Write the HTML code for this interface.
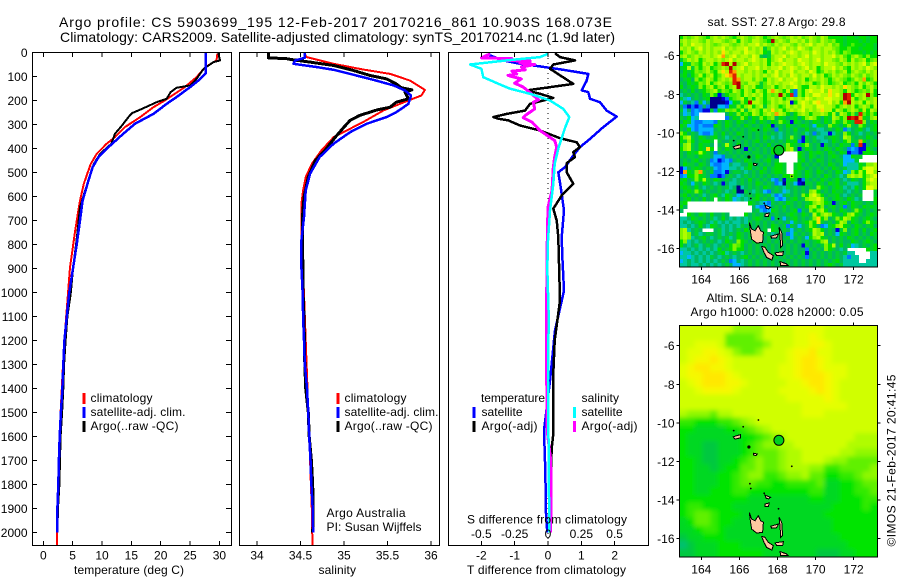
<!DOCTYPE html>
<html lang="en">
<head>
<meta charset="utf-8">
<title>Argo profile CS 5903699_195</title>
<style>
html,body{margin:0;padding:0;background:#fff;width:900px;height:580px;overflow:hidden}
svg{display:block}
text{font-family:"Liberation Sans",sans-serif;font-size:12px;fill:#000}
.title{font-size:14px}
.frame{fill:none;stroke:#000;stroke-width:1;shape-rendering:crispEdges}
.tick{stroke:#000;stroke-width:1;shape-rendering:crispEdges}
.line{fill:none;shape-rendering:crispEdges;stroke-linejoin:round}
.cell{shape-rendering:crispEdges}
.key{shape-rendering:crispEdges}
</style>
</head>
<body>
<svg id="chart" width="900" height="580" viewBox="0 0 900 580" xmlns="http://www.w3.org/2000/svg">
  <defs>
    <filter id="smooth" x="-5%" y="-5%" width="110%" height="110%"><feGaussianBlur stdDeviation="2.4"/></filter>
    <clipPath id="sla-clip"><rect x="679.5" y="325.5" width="198" height="231.5"/></clipPath>
  </defs>
  <text class="title" x="59" y="27" textLength="553" lengthAdjust="spacing">Argo profile: CS 5903699_195 12-Feb-2017 20170216_861 10.903S 168.073E</text>
  <text class="title" x="60" y="42" textLength="555" lengthAdjust="spacing">Climatology: CARS2009. Satellite-adjusted climatology: synTS_20170214.nc (1.9d later)</text>

  <g id="profiles"></g>
  <g id="maps"></g>

  <text x="74" y="574" textLength="110" lengthAdjust="spacing">temperature (deg C)</text>
  <text x="318.5" y="574" textLength="37.5" lengthAdjust="spacing">salinity</text>
  <text x="467" y="574" textLength="159" lengthAdjust="spacing">T difference from climatology</text>
  <text x="467" y="523.5" textLength="160" lengthAdjust="spacing">S difference from climatology</text>

  <g>
    <rect class="key" x="82.5" y="393" width="3" height="11" fill="#ff0000"/>
    <text x="90.5" y="402" textLength="62" lengthAdjust="spacing">climatology</text>
    <rect class="key" x="82.5" y="407" width="3" height="11" fill="#0000ff"/>
    <text x="90.5" y="416" textLength="95" lengthAdjust="spacing">satellite-adj. clim.</text>
    <rect class="key" x="82.5" y="421" width="3" height="11" fill="#000"/>
    <text x="90.5" y="430" textLength="88" lengthAdjust="spacing">Argo(..raw -QC)</text>
  </g>
  <g>
    <rect class="key" x="336.5" y="393" width="3" height="11" fill="#ff0000"/>
    <text x="344.5" y="402" textLength="62" lengthAdjust="spacing">climatology</text>
    <rect class="key" x="336.5" y="407" width="3" height="11" fill="#0000ff"/>
    <text x="344.5" y="416" textLength="94" lengthAdjust="spacing">satellite-adj. clim.</text>
    <rect class="key" x="336.5" y="421" width="3" height="11" fill="#000"/>
    <text x="344.5" y="430" textLength="88" lengthAdjust="spacing">Argo(..raw -QC)</text>
    <text x="326.5" y="517" textLength="79" lengthAdjust="spacing">Argo Australia</text>
    <text x="326.5" y="531" textLength="95" lengthAdjust="spacing">PI: Susan Wijffels</text>
  </g>
  <g>
    <text x="481" y="402" textLength="64" lengthAdjust="spacing">temperature</text>
    <rect class="key" x="472.5" y="407" width="3" height="11" fill="#0000ff"/>
    <text x="481.5" y="416" textLength="41" lengthAdjust="spacing">satellite</text>
    <rect class="key" x="472.5" y="421" width="3" height="11" fill="#000"/>
    <text x="481.5" y="430" textLength="56" lengthAdjust="spacing">Argo(-adj)</text>
    <text x="581.5" y="402" textLength="37.5" lengthAdjust="spacing">salinity</text>
    <rect class="key" x="573" y="407" width="3" height="11" fill="#00ffff"/>
    <text x="581.5" y="416" textLength="41" lengthAdjust="spacing">satellite</text>
    <rect class="key" x="573" y="421" width="3" height="11" fill="#ff00ff"/>
    <text x="581.5" y="430" textLength="56" lengthAdjust="spacing">Argo(-adj)</text>
  </g>

  <text x="707.5" y="26" textLength="138" lengthAdjust="spacing">sat. SST: 27.8 Argo: 29.8</text>
  <text x="706.5" y="302" textLength="87.5" lengthAdjust="spacing">Altim. SLA: 0.14</text>
  <text x="690.5" y="316" textLength="173" lengthAdjust="spacing">Argo h1000: 0.028 h2000: 0.05</text>
  <text transform="translate(895.5,546.5) rotate(-90)" textLength="172" lengthAdjust="spacing">©IMOS 21-Feb-2017 20:41:45</text>
</svg>

<script>
/* ---------- depth axis ---------- */
const depthTicks = [0,100,200,300,400,500,600,700,800,900,1000,1100,1200,1300,1400,1500,1600,1700,1800,1900,2000];
const tempTicks = [0,5,10,15,20,25,30];
const salTicks = ["34","34.5","35","35.5","36"];
const tDiffTicks = ["-2","-1","0","1","2"];
const sDiffTicks = ["-0.5","-0.25","0","0.25","0.5"];

/* ---------- temperature profiles ---------- */
const tempClimDepth = [5,33,61,103,144,200,228,269,311,353,380,422,464,505,547,617,686,756,825,894,978,1100,1200,1300,1400,1500,1600,1700,1800,1900,2000,2054];
const tempClimValue = [29.66,29.5,27.6,26.1,24.1,20.7,18.75,16.5,13.9,12.2,10.8,9.1,8.1,7.5,6.9,6.25,5.8,5.35,4.95,4.55,4.3,3.9,3.6,3.35,3.15,2.95,2.8,2.65,2.55,2.45,2.35,2.3];
const tempSatDepth = [0,85,96,117,144,186,214,256,297,339,394,436,478,533,617,700,797,894,1005,1100,1200,1300,1400,1500,1600,1700,1800,1900,2000];
const tempSatValue = [27.7,27.7,27.3,26.4,25,22.7,21,18.75,15.6,13.6,11.1,9.4,8.4,7.7,6.7,6.25,5.7,5.1,4.4,4,3.6,3.4,3.25,3,2.8,2.65,2.55,2.4,2.35];
const tempArgoDepth = [0,33,40,68,110,137,147,165,193,207,235,253,269,304,339,380,422,464,505,561,644,756,894,1005,1100,1200,1300,1400,1500,1600,1700,1800,1900,2000];
const tempArgoValue = [29.8,30.1,29,27.3,26.1,25,22.7,21.7,21,19.3,16.8,15.1,14.5,13.4,12.2,11.6,9.7,8.6,8.1,7.3,6.25,5.8,5.1,4.66,4.1,3.8,3.55,3.4,3.2,2.95,2.85,2.75,2.5,2.4];

/* ---------- salinity profiles ---------- */
const salClimDepth = [5,19,47,71,89,117,156,179,200,242,290,325,353,408,464,519,575,631,756,894,1005,1100,1200,1300,1400,1500,1600,1700,1800,1900,2000,2054];
const salClimValue = [34.55,34.57,34.88,35.22,35.53,35.76,35.93,35.89,35.74,35.45,35.22,35.03,34.88,34.74,34.63,34.56,34.53,34.51,34.51,34.525,34.54,34.55,34.56,34.57,34.58,34.585,34.6,34.61,34.62,34.63,34.635,34.64];
const salSatDepth = [1,22,33,47,61,72,89,114,137,158,179,214,249,269,297,332,380,436,505,575,686,783,894,1005,1100,1200,1300,1400,1500,1600,1700,1800,1900,2000];
const salSatValue = [34.55,34.55,34.44,34.42,34.69,34.88,35.07,35.34,35.57,35.7,35.77,35.74,35.6,35.49,35.26,35.07,34.88,34.72,34.61,34.56,34.54,34.51,34.51,34.525,34.53,34.54,34.55,34.575,34.59,34.6,34.615,34.625,34.64,34.645];
const salArgoDepth = [1,22,26,31,40,54,75,96,110,131,147,156,165,193,207,228,239,262,283,311,353,408,450,519,603,672,839,1005,1100,1200,1300,1400,1500,1600,1700,1800,1900,2000];
const salArgoValue = [34.13,34.13,34.34,34.42,34.61,34.88,35.11,35.3,35.49,35.6,35.66,35.78,35.7,35.74,35.6,35.53,35.38,35.18,35.07,35,34.9,34.78,34.67,34.59,34.54,34.525,34.525,34.53,34.54,34.545,34.55,34.56,34.59,34.6,34.625,34.64,34.645,34.64];

/* ---------- difference profiles ---------- */
const tDiffSatDepth = [3,12,33,47,58,72,89,117,158,165,193,207,242,267,311,360,394,429,478,499,561,658,769,850,992,1158,1367,1575,1742,1921,2000];
const tDiffSatValue = [-1.79,-1.74,-1.34,-0.84,-0.24,0.46,1.21,1.16,1.01,1.21,1.26,1.56,1.76,2.06,1.66,1.26,0.96,0.76,0.51,0.31,0.38,0.48,0.41,0.43,0.48,0.21,0.06,-0.12,-0.08,-0.06,-0.02];
const tDiffArgoDepth = [3,19,33,50,68,131,158,172,189,214,242,256,269,276,283,304,325,357,374,394,415,436,461,499,547,596,651,700,769,1033,1200,1367,1600,1650,1850,2000];
const tDiffArgoValue = [0.21,0.36,0.81,0.16,0.06,0.76,-0.64,-0.24,0.16,-0.54,-0.69,-1.24,-1.64,-1.49,-1.19,-0.84,-0.24,0.36,0.86,0.96,0.76,0.81,0.56,0.56,0.76,0.41,0.16,0.26,0.31,0.36,0.2,0.15,0.15,0.11,0.06,0.06];
const sDiffSatDepth = [6,19,33,50,68,103,131,151,172,200,235,269,311,394,464,547,658,783,900,1100,1367,1700,2000];
const sDiffSatValue = [0,-0.06,-0.31,-0.585,-0.5,-0.485,-0.37,-0.285,-0.135,0.015,0.115,0.16,0.13,0.08,0.05,0.04,0.015,0,-0.005,0.005,0,0.005,0.01];
const sDiffArgoDepth = [6,22,26,33,36,44,50,61,72,78,89,96,110,128,144,158,197,207,235,262,272,290,325,367,394,436,478,575,644,769,1000,1367,1580,1700,1800,2000];
const sDiffArgoValue = [-0.435,-0.5,-0.27,-0.35,-0.135,-0.21,-0.1,-0.2,-0.17,-0.27,-0.235,-0.3,-0.2,-0.25,-0.185,-0.155,-0.07,-0.11,-0.1,-0.17,-0.185,-0.12,-0.06,0.05,0.065,0.05,0.04,0.03,0,-0.005,-0.01,-0.01,-0.005,0.02,0.022,0.02];

/* ---------- map axes ---------- */
const lonTicks = [164,166,168,170,172];
const latTicks = [-6,-8,-10,-12,-14,-16];
const argoLon = 168.073;
const argoLat = -10.903;
const gridLonStart = 162.85;
const gridLatStart = -4.93;
const sstLonStep = 0.2;
const sstLatStep = 0.2;
const slaLonStep = 0.4;
const slaLatStep = 0.4;

/* ---------- SST grid: one code per cell ---------- */
const sstLevels = "abcdefghijklmnop";
const sstRows = [
"hjijkjihjkjkjihjkjijkjhijkjijkjkijkjikjhhhhghhghhghh",
"jkjkkjikjkkjijkhkjikkjihpjkjikkjkikjikjijhhghhhghghh",
"ikjlkkjkjijkkjijkjkkljkjikjkkjikjkljkkjkijhghihhghhg",
"kjkikljkjkkljkjkkljkjkgikjkljkjlkjikkjkkjihhihhghhhg",
"hjkjikjkjkjmkjkkjlkkjkhgkjkjklkjkkjlkjkjkihjihhhghgh",
"jkijkjkkjklnjkljkkjlkgfgjkkljkkjkljkkjkkljkihjkihjhh",
"gikjkhjkkjkjkljkkjklkjkhjkljkkjlkkjkljkkjikjhkijkhij",
"dhgjihkjkhjopkpjkljkkjkhkjklkkjklkjkkjlkkjikjkjklikl",
"ghkgjhjkhijkjpjkljkkljkjkkljklkjkljkhjkkljkihkjkjlkj",
"fhghjijkihkmkonkkjkjkjhkjljkkljkkjlkhikjkijkhjkjikjk",
"ghfhikhjkhikmnokjkkjkjkjkljkjlkjkkjljkhikjkjikjikijk",
"fghfjhikjhjkjkonjkkikjhkjkljkkljkhjkjkjhjkjihikjnhik",
"gfhghjikhjkjijopjikkjgikjkjkklkjkjkhikjhijkhijhkikjh",
"hfghgjhjkhjkhjkpikjkhgijkhjkjkljhhkkjlkkjkjmkjikhjki",
"fgfhfghijkhjihkjhkjhkjhknkjhkgcjhklkkljmkkjhkjhijikh",
"efgfgfhgjhbfhiijhkjkjkhjijpjhocjhkjllkkmkljpohkjkpjh",
"gedfgfghaaabchijkhjhkjhjkjkhjkjkjlkjkkllkkjpokhjkijk",
"dgfecgdfaaaabdhgjhpkkjhikjkjkbhklkjlmkkljkhnpkjkhkjk",
"fcbcbcfcaaddchgjhjkhjkgjkjhikjkjlkkjllkkjhjkjkhjkjhk",
"gdfcdcbbgchgjijhkgjkjhkjmjkhjkjkljkjkmkkhkjhjkjhkhkj",
"fdecdwwwwwwwfhgjhihkjhjkjnkjhfhjkjhjjkjhkgkjhjgoihjh",
"gfhdewwwwwwwcfhgjhfhgjhijfhgfghfhjkjhfhgkjhjpopnhgjk",
"fhgdccdddcgfhgfhgfghfhgfhgjhgbhgfgfhgfhgjhgjhgoojfhg",
"hgddcdccchgfhgfgfhgfgfghbfgfhgfghgfdhgfjhgfhjgfjhfgh",
"gfhdcddddfgfgfgfgfghgfhgfcgfgfhffhffeefgfhgcefghfegh",
"jhfgfdccdgfhfgfhgfgfgfgfgfefgfgfgefcfeebegfjhfgefgfg",
"hjkgfhgfghfgefgfgfgfgfhgefefgjgfbgfgeefghgfkjgfgfhgf",
"hgjhfghhgwgffgfgfgfghfgfgfgfhghcbgfgfeefhgfhjggnhfgh",
"gjkgfhggfwfgkgfhfgfgfgfhfgfgjhgfhjgfgbgfgfhggcgobfgh",
"hjkgfhgmhwgfhgfgfbgfgfgfhgfhjkgbfhgfgfhgfhgfcdcbbhgf",
"gfhghkhgfcfgfgfgfgfggfgfhgwwwwwhgfhghgfhgfhgbccbhhhg",
"gfggfhggfddcffgfgfgfhgfgfbwwwwwhgfhgfgfghgfddhggwwww",
"fgfghfgfcdbcdcfgfhgfgfghfgwwwwwghfgfhgfgfggdddgwwwww",
"fhggfhgfdccddfeeffhgfgfgfhhgwwghfgfgfgfhgfgdeeehgjjk",
"bdfghgfgfdcddeefeghfgfhfghhgwwghgfgfgfgfhgfgeeehkllk",
"bnhgjngfgccdbfggfefgfhgfghhgwwhgfhgfhgfgfhgdejhkhllj",
"cdhhjhgfccbcfgfefgfgfgfgfgfhhjhgfhgfgfhgfgefjkjkhjkl",
"ghfgjhkgfhgfgfefgfhfgfgfdcfbghgacgfgfhgfghfefhgfhklk",
"hgfdgfhgfefbfeefgfgfhgfgfcdagfdbaggfhgfhghfgeeefhjkk",
"ghgfhfefgfgfgefaefgfgfhgfgfegfgfgfgfjhgfghgefehfhllk",
"fghgjhfgffgfefgaagfegfdcfgfdefgfgfjkhfgfhggfefgfwwwg",
"ghfgfgefghfehgfdefgfhgfgecdfgfgfjhkljhfgghfefgfgwwwg",
"fghfgfhfgwgfhgdefefghfgfgdcdfghfgjkkljgfghgfhgefwwwh",
"ghwwwwwwwwwwwwwwwwhgfedcgfgfhgfgfghjkjhgbfghfhggfgfh",
"hfwwwwwwwwwwwwwwwwwfdccdfgfhfgfgfhjkhjfghfgcfhgfhghg",
"fwwwwwwwwwwwwwwwwwwfgdcdhgfgfghcgfjhjkhfgfhgfgjhfgfg",
"wwhgfhgfhffgfwwwwhfgfgfgfgffghgfhgfkhjkjhgfhjkhgfghg",
"eefhgfgfgefhfefefefghgfgcgfdfghfgfgjmhjfgjhkjhgfghgf",
"efefghgfegefefeefegfgfgfgfgfgdgfghjhmgfgfhkjfhgfhjhg",
"eefefhfehgfefefegfgfgfgfhgfgcgfdfgjhfcdghjkhgfhgfghf",
"jkefgfwwwfgefefgfhgfgfgwhgfgfdfgfghkjhfgfbgjfghfhfgh",
"jkjfgefggfgefgfhgfgfgfgfefgfcdgfgfgkjkfgfdhgfghfgfhg",
"jkjefghfefgfgefhgfgfhgfgefgfgdfgfdhjkhgfgfgfhgfgfgfg",
"hjefefgfgfefhgfjhgfgfgfgfgfgfgfgfgfghjkfgfgffhgfghgf",
"hfefgefgfefgfhjihfgfgfgfgfgfgfgfbgfgfgjhkfhfgdefgfgh",
"eefefefefehfghjhhfgfgfgfgfgfgfgffcgfgfjhgfefwwwwwhgh",
"deefefefefghefgfefgfgfgfgfgfgfgfgbfgfgfgfgfgeewwwweeef",
"eedefefegfefgfefghfgfgfgfgfgfgfgfcfgfgfgfgfeceewwweeee",
"defefefefefgfcdfefgfgfgfgfgfgfgfgfgfgfgfghfeeeewweeeef",
"eefeefefefefgfddefgfgfgfgfgfgfgfgfgfgfghgfgeeeeeeeeeef"
];

/* ---------- sea level anomaly grid, level codes 0-11 ---------- */
const slaLevels = "0123456789ab";
const slaRows = [
"88888886666888899998888888",
"88888855556888899a98888888",
"88999855555688899aa9888888",
"899aa9865568889aab99888888",
"89aaba988888889abba9888888",
"9abbaa988888899abba9998888",
"9aabbba98888899abbba998888",
"89abbbaa98888899abba988888",
"889aaaa9888889999aba988888",
"8888888888888899999a988888",
"88888888888888889999998888",
"76665778888888889998888888",
"44333445678888888888888888",
"33222233456788888888888888",
"32222222334567888888888777",
"32211222345667788888887777",
"32211222345556778888877666",
"33211223456556778887665555",
"33221233556556777664455556",
"33222334566445667553344566",
"33222334554433444452233455",
"33223334433333333442233445",
"33333333322222222332233344",
"34433332222222222222333343",
"34554333222222222223333333",
"23554332222222222222333333",
"22344322222222222222333333",
"12233322222222222222233333",
"01222333222222222222223333",
"11222333333222222211122333"
];

/* ---------- coastlines [lon,lat] ---------- */
const islandShapes = [
  [[166.52,-14.64],[166.64,-14.98],[166.82,-15.07],[166.99,-14.81],[167.12,-15.07],[167.26,-15.15],[167.22,-15.67],[166.91,-15.71],[166.64,-15.5],[166.56,-14.98]],
  [[167.17,-15.88],[167.34,-15.93],[167.52,-16.19],[167.78,-16.36],[167.7,-16.59],[167.43,-16.45],[167.29,-16.19]],
  [[167.64,-15.36],[168.05,-15.24],[167.96,-15.43],[167.7,-15.46]],
  [[168.08,-14.89],[168.22,-15.15],[168.27,-15.84],[168.17,-15.93],[168.13,-15.33]],
  [[167.87,-16.22],[168.31,-16.15],[168.27,-16.36],[167.96,-16.36]],
  [[168.13,-16.67],[168.48,-16.79],[168.57,-16.88],[168.17,-16.88]],
  [[167.34,-13.74],[167.64,-13.86],[167.52,-13.94],[167.4,-13.9]],
  [[167.34,-14.2],[167.57,-14.15],[167.52,-14.33],[167.34,-14.33]],
  [[165.68,-10.72],[166.07,-10.6],[166.07,-10.77],[165.77,-10.84]],
  [[166.73,-11.57],[166.94,-11.61],[166.87,-11.7],[166.73,-11.66]]
];
const reefLon = [166.5,167,166.2,165.7,166.55,166.6,168.75,168.05,167.3];
const reefLat = [-11.25,-9.85,-10.2,-10.4,-13.15,-13.4,-12.25,-14.45,-13.65];

/* ---------- palettes ---------- */
const sstColors = ["#00008c","#0000e0","#0078ff","#00b4ff","#00c8a0","#00b860","#00d030","#00e000","#50f000","#80f400","#b0fc00","#e0ff00","#ffe000","#ffa000","#e02000","#b00000"];
const slaColors = ["#00c070","#00c840","#00d820","#00e400","#30ea00","#60f000","#90f800","#b0fc00","#d0ff00","#e4ff00","#f6f800","#ffe800"];

const NS = "http://www.w3.org/2000/svg";
const profiles = document.getElementById("profiles");
const maps = document.getElementById("maps");

/* axis functions */
const depthY = d => 52.5 + 0.24 * d;
const tempX = t => 43.3 + 5.87 * t;
const salX = s => 257 + 87 * (s - 34);
const tDiffX = v => 548 + 33.33 * v;
const sDiffX = v => 548 + 133.3 * v;
const lonX = lon => 701.3 + 19.05 * (lon - 164);
const latY = (lat, off) => 55.7 + off + 19.3 * (-6 - lat);

function svg(tag, parent) {
  const el = document.createElementNS(NS, tag);
  parent.appendChild(el);
  return el;
}
function rectFrame(parent, x0, y0, x1, y1, name) {
  const r = svg("rect", parent);
  r.setAttribute("class", "frame");
  r.setAttribute("x", x0);
  r.setAttribute("y", y0);
  r.setAttribute("width", x1 - x0);
  r.setAttribute("height", y1 - y0);
  
  
}
function tick(parent, x1, y1, x2, y2, name) {
  const l = svg("line", parent);
  l.setAttribute("class", "tick");
  l.setAttribute("x1", x1);
  l.setAttribute("y1", y1);
  l.setAttribute("x2", x2);
  l.setAttribute("y2", y2);
  
  
}
function label(parent, x, y, str, anchor, name) {
  const t = svg("text", parent);
  t.setAttribute("x", x);
  t.setAttribute("y", y);
  t.setAttribute("text-anchor", anchor);
  t.textContent = str;
  
  
}
function series(parent, values, depths, xFn, color, width, name) {
  const p = svg("polyline", parent);
  p.setAttribute("class", "line");
  p.setAttribute("stroke", color);
  p.setAttribute("stroke-width", width);
  p.setAttribute("points", values.map((v, i) => xFn(v).toFixed(1) + "," + depthY(depths[i]).toFixed(1)).join(" "));
  
  
}

/* temperature panel */
const tempPanel = svg("g", profiles);


series(tempPanel, tempClimValue, tempClimDepth, tempX, "#ff0000", 2, "temperature-climatology-line");
series(tempPanel, tempArgoValue, tempArgoDepth, tempX, "#000000", 2, "temperature-argo-line");
series(tempPanel, tempSatValue, tempSatDepth, tempX, "#0000ff", 2.5, "temperature-satellite-line");
rectFrame(tempPanel, 32.5, 52.5, 231.5, 545.5, "temperature-plot-frame");
depthTicks.forEach(d => {
  tick(tempPanel, 33, depthY(d), 37, depthY(d), "depth-tick-left");
  tick(tempPanel, 231, depthY(d), 226, depthY(d), "depth-tick-right");
  label(tempPanel, 27.5, depthY(d) + 4.5, String(d), "end", "depth-tick-label");
});
tempTicks.forEach(t => {
  tick(tempPanel, tempX(t), 53, tempX(t), 57, "temperature-tick-top");
  tick(tempPanel, tempX(t), 545, tempX(t), 541, "temperature-tick-bottom");
  label(tempPanel, tempX(t), 559.5, String(t), "middle", "temperature-tick-label");
});

/* salinity panel */
const salPanel = svg("g", profiles);


series(salPanel, salClimValue, salClimDepth, salX, "#ff0000", 2, "salinity-climatology-line");
series(salPanel, salArgoValue, salArgoDepth, salX, "#000000", 3, "salinity-argo-line");
series(salPanel, salSatValue, salSatDepth, salX, "#0000ff", 2.5, "salinity-satellite-line");
rectFrame(salPanel, 239.5, 52.5, 439.5, 545.5, "salinity-plot-frame");
salTicks.forEach(s => {
  const x = salX(parseFloat(s));
  tick(salPanel, x, 53, x, 57, "salinity-tick-top");
  tick(salPanel, x, 545, x, 541, "salinity-tick-bottom");
  label(salPanel, x, 559.5, s, "middle", "salinity-tick-label");
});

/* difference panel */
const diffPanel = svg("g", profiles);


const zeroLine = svg("line", diffPanel);
zeroLine.setAttribute("x1", tDiffX(0));
zeroLine.setAttribute("x2", tDiffX(0));
zeroLine.setAttribute("y1", 53);
zeroLine.setAttribute("y2", 545);
zeroLine.setAttribute("stroke", "#000");
zeroLine.setAttribute("stroke-dasharray", "1 4");
zeroLine.setAttribute("shape-rendering", "crispEdges");


series(diffPanel, tDiffSatValue, tDiffSatDepth, tDiffX, "#0000ff", 2.5, "t-difference-satellite-line");
series(diffPanel, tDiffArgoValue, tDiffArgoDepth, tDiffX, "#000000", 2.5, "t-difference-argo-line");
series(diffPanel, sDiffArgoValue, sDiffArgoDepth, sDiffX, "#ff00ff", 3, "s-difference-argo-line");
series(diffPanel, sDiffSatValue, sDiffSatDepth, sDiffX, "#00ffff", 2.5, "s-difference-satellite-line");
rectFrame(diffPanel, 448.5, 52.5, 648.5, 545.5, "difference-plot-frame");
tDiffTicks.forEach(v => {
  const x = tDiffX(parseFloat(v));
  tick(diffPanel, x, 53, x, 57, "t-difference-tick-top");
  tick(diffPanel, x, 545, x, 541, "t-difference-tick-bottom");
  label(diffPanel, x, 559.5, v, "middle", "t-difference-tick-label");
});
sDiffTicks.forEach(v => {
  label(diffPanel, sDiffX(parseFloat(v)), 538, v, "middle", "s-difference-tick-label");
});

/* maps */
function drawMap(name, off, rows, levels, colors, lonStep, latStep, markerFill, soften) {
  const g = svg("g", maps);
  
  
  const left = 679.5, right = 877.5, top = 35.5 + off, bottom = 267 + off;
  const cellClip = svg("g", g);
  
  
  const cells = svg("g", cellClip);
  
  
  if (soften) {
    cellClip.setAttribute("clip-path", "url(#sla-clip)");
    cells.setAttribute("filter", "url(#smooth)");
  }
  rows.forEach((row, r) => {
    for (let c = 0; c < row.length; c++) {
      const code = row[c];
      const idx = levels.indexOf(code);
      if (idx < 0) continue;
      const lon = gridLonStart + c * lonStep;
      const lat = gridLatStart - r * latStep;
      let x0 = lonX(lon), x1 = Math.min(lonX(lon + lonStep), right);
      let y0 = latY(lat, off), y1 = Math.min(latY(lat - latStep, off), bottom);
      if (x0 >= right || y0 >= bottom) continue;
      if (soften) {
        if (c === 0) x0 -= 10;
        if (c === row.length - 1) x1 += 10;
        if (r === 0) y0 -= 10;
        if (r === rows.length - 1) y1 += 10;
      }
      const cell = svg("rect", cells);
      cell.setAttribute("class", "cell");
      cell.setAttribute("x", x0.toFixed(1));
      cell.setAttribute("y", y0.toFixed(1));
      cell.setAttribute("width", (x1 - x0 + 0.4).toFixed(1));
      cell.setAttribute("height", (y1 - y0 + 0.4).toFixed(1));
      cell.setAttribute("fill", colors[idx]);
      
      
    }
  });
  islandShapes.forEach(shape => {
    const p = svg("polygon", g);
    p.setAttribute("points", shape.map(q => lonX(q[0]).toFixed(1) + "," + latY(q[1], off).toFixed(1)).join(" "));
    p.setAttribute("fill", "#ffc8a0");
    p.setAttribute("stroke", "#000");
    p.setAttribute("stroke-width", "1");
    p.setAttribute("shape-rendering", "crispEdges");
    
    
  });
  reefLon.forEach((lon, i) => {
    const dot = svg("circle", g);
    dot.setAttribute("cx", lonX(lon).toFixed(1));
    dot.setAttribute("cy", latY(reefLat[i], off).toFixed(1));
    dot.setAttribute("r", i === 0 ? 1.6 : 0.9);
    dot.setAttribute("fill", "#000");
    
    
  });
  const marker = svg("circle", g);
  marker.setAttribute("cx", lonX(argoLon).toFixed(1));
  marker.setAttribute("cy", latY(argoLat, off).toFixed(1));
  marker.setAttribute("r", 5);
  marker.setAttribute("fill", markerFill);
  marker.setAttribute("stroke", "#000");
  marker.setAttribute("stroke-width", "1");
  
  
  rectFrame(g, left, top, right, bottom, name + "-frame");
  lonTicks.forEach(lon => {
    const x = lonX(lon);
    tick(g, x, top, x, top - 3, "longitude-tick-top");
    tick(g, x, bottom, x, bottom + 3, "longitude-tick-bottom");
    label(g, x, bottom + 16.5, String(lon), "middle", "longitude-tick-label");
  });
  latTicks.forEach(lat => {
    const y = latY(lat, off);
    tick(g, left, y, left - 3, y, "latitude-tick-left");
    tick(g, right, y, right + 3, y, "latitude-tick-right");
    label(g, 674.5, y + 4.5, String(lat), "end", "latitude-tick-label");
  });
}
drawMap("sst-map", 0, sstRows, sstLevels, sstColors, sstLonStep, sstLatStep, "#00cc20", false);
drawMap("sla-map", 290, slaRows, slaLevels, slaColors, slaLonStep, slaLatStep, "#00d020", true);
</script>
</body>
</html>
